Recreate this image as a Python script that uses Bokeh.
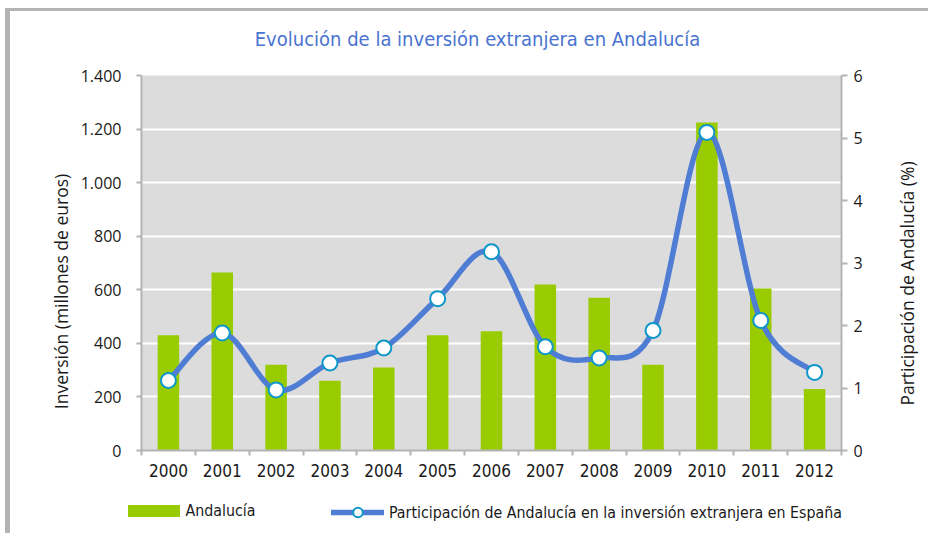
import math
from bokeh.plotting import figure
from bokeh.layouts import column, row
from bokeh.models import Range1d, LinearAxis, FixedTicker, Legend, LegendItem
from bokeh.core.properties import value
from bokeh.embed import file_html
from bokeh.resources import INLINE

# ---- data ----
years = ["2000", "2001", "2002", "2003", "2004", "2005", "2006",
         "2007", "2008", "2009", "2010", "2011", "2012"]
inversion = [430, 665, 320, 260, 310, 430, 445, 620, 570, 320, 1225, 605, 230]
participacion = [1.12, 1.88, 0.97, 1.40, 1.64, 2.43, 3.18, 1.66, 1.48, 1.92, 5.09, 2.08, 1.25]
left_ticks = [0, 200, 400, 600, 800, 1000, 1200, 1400]
left_tick_labels = ["0", "200", "400", "600", "800", "1.000", "1.200", "1.400"]
right_ticks = [0, 1, 2, 3, 4, 5, 6]

title_text = "Evolución de la inversión extranjera en Andalucía"
left_label = "Inversión (millones de euros)"
right_label = "Participación de Andalucía (%)"
bar_name = "Andalucía"
line_name = "Participación de Andalucía en la inversión extranjera en España"

NARROW = "DejaVu Sans Condensed"
SANS = "Open Sans"
GREY = "#b3b3b3"
GREEN = "#99cc00"
BLUE = "#507dd4"
MARK = "#0f97c9"
TXT = "#1a1a1a"

idx = list(range(len(years)))
n = len(idx)

# layout sizes (px)
W_ALL = 918
W_LEFT = 65
W_SIDE = 43
W_MAIN = W_ALL - W_LEFT - W_SIDE
H_TOP = 44
H_MAIN = 443
H_LEG = 35


def no_align(f):
    try:
        f.frame_align = False
    except Exception:
        pass


p = figure(width=W_MAIN, height=H_MAIN, output_backend="svg", toolbar_location=None,
           x_range=Range1d(-0.5, n - 0.5), y_range=Range1d(0, 1400),
           min_border_left=131 - W_LEFT, min_border_right=44, min_border_top=20,
           min_border_bottom=48)
no_align(p)
p.title = None
p.extra_y_ranges = {"right": Range1d(0, 6)}
p.background_fill_color = "#dcdcdc"
p.border_fill_color = "white"
p.outline_line_color = None

p.vbar(x=idx, top=inversion, width=0.4, fill_color=GREEN, line_color=None)

# smoothed line (Catmull-Rom -> cubic Bezier per segment)
bx0, by0, bx1, by1, bcx0, bcy0, bcx1, bcy1 = [], [], [], [], [], [], [], []
for i in range(n - 1):
    im1 = max(i - 1, 0)
    ip2 = min(i + 2, n - 1)
    bx0.append(idx[i]); by0.append(participacion[i])
    bx1.append(idx[i + 1]); by1.append(participacion[i + 1])
    bcx0.append(idx[i] + (idx[i + 1] - idx[im1]) / 6.0)
    bcy0.append(participacion[i] + (participacion[i + 1] - participacion[im1]) / 6.0)
    bcx1.append(idx[i + 1] - (idx[ip2] - idx[i]) / 6.0)
    bcy1.append(participacion[i + 1] - (participacion[ip2] - participacion[i]) / 6.0)

p.bezier(x0=bx0, y0=by0, x1=bx1, y1=by1, cx0=bcx0, cy0=bcy0, cx1=bcx1, cy1=bcy1,
         line_color=BLUE, line_width=5.5, line_cap="round", y_range_name="right")
p.scatter(x=idx, y=participacion, size=15, fill_color="white",
          line_color=MARK, line_width=2, y_range_name="right")

# x axis
xa = p.xaxis[0]
xa.ticker = FixedTicker(ticks=idx, minor_ticks=[i - 0.5 for i in range(n + 1)])
xa.major_label_overrides = {i: years[i] for i in idx}
xa.major_tick_out = 0
xa.major_tick_in = 0
xa.minor_tick_out = 5
xa.minor_tick_in = 0
xa.minor_tick_line_color = GREY
xa.minor_tick_line_width = 2
xa.axis_line_color = GREY
xa.axis_line_width = 2
xa.major_label_standoff = 8
xa.major_label_text_font = NARROW
xa.major_label_text_font_size = "17px"
xa.major_label_text_color = TXT

# left axis (ticks only; its title is drawn in the left strip)
ya = p.yaxis[0]
ya.ticker = FixedTicker(ticks=left_ticks)
ya.major_label_overrides = {t: l for t, l in zip(left_ticks, left_tick_labels)}
ya.major_tick_out = 5
ya.major_tick_in = 0
ya.minor_tick_out = 0
ya.minor_tick_in = 0
ya.major_tick_line_color = GREY
ya.major_tick_line_width = 2
ya.axis_line_color = GREY
ya.axis_line_width = 2
ya.major_label_standoff = 15
ya.major_label_text_font = SANS
ya.major_label_text_font_size = "16px"
ya.major_label_text_color = TXT

# right axis (ticks only; its title is drawn in the side strip)
ra = LinearAxis(y_range_name="right", ticker=FixedTicker(ticks=right_ticks))
ra.major_tick_out = 6
ra.major_tick_in = 0
ra.minor_tick_out = 0
ra.minor_tick_in = 0
ra.major_tick_line_color = GREY
ra.major_tick_line_width = 2
ra.axis_line_color = GREY
ra.axis_line_width = 2
ra.major_label_standoff = 6
ra.major_label_text_font = SANS
ra.major_label_text_font_size = "16px"
ra.major_label_text_color = TXT
p.add_layout(ra, "right")

# grid
p.xgrid.visible = False
p.ygrid.ticker = FixedTicker(ticks=left_ticks)
p.ygrid.grid_line_color = "white"
p.ygrid.grid_line_width = 2


def strip(w, h):
    f = figure(width=w, height=h, output_backend="svg", toolbar_location=None,
               x_range=Range1d(0, w), y_range=Range1d(0, h),
               x_axis_location=None, y_axis_location=None,
               min_border_left=0, min_border_right=0, min_border_top=0,
               min_border_bottom=0)
    no_align(f)
    f.title = None
    f.xgrid.visible = False
    f.ygrid.visible = False
    f.outline_line_color = None
    f.background_fill_color = "white"
    f.border_fill_color = "white"
    return f


# title strip
p0 = strip(W_ALL, H_TOP)
p0.text(x=[467], y=[H_TOP - 27], text=[title_text], text_align="center",
        text_baseline="middle", text_font=value(NARROW), text_font_size="20px",
        text_color="#4a73d0")

# left strip carrying the left axis title
p4 = strip(W_LEFT, H_MAIN)
p4.text(x=[50], y=[H_MAIN - 236], text=[left_label], angle=math.pi / 2,
        text_align="center", text_baseline="middle", text_font=value(SANS),
        text_font_size="17.5px", text_color=TXT)

# side strip carrying the right axis title (reads bottom to top)
p3 = strip(W_SIDE, H_MAIN)
p3.text(x=[W_SIDE / 2], y=[H_MAIN - 228], text=[right_label], angle=math.pi / 2,
        text_align="center", text_baseline="middle", text_font=value(SANS),
        text_font_size="17.5px", text_color=TXT)

# legend strip below the chart
p2 = strip(W_ALL, H_LEG)
r_bar = p2.vbar(x=[math.nan], top=[math.nan], width=1, fill_color=GREEN, line_color=None)
r_line = p2.line(x=[math.nan], y=[math.nan], line_color=BLUE, line_width=5.5,
                 line_cap="round")
r_pt = p2.scatter(x=[math.nan], y=[math.nan], size=10, fill_color="white",
                  line_color=MARK, line_width=2)
common = dict(orientation="horizontal", padding=0, margin=0, spacing=0,
              border_line_alpha=0, background_fill_alpha=0,
              label_text_font=NARROW, label_text_font_size="15.8px",
              label_text_color=TXT)
leg1 = Legend(items=[LegendItem(label=bar_name, renderers=[r_bar])],
              location=(110.5, 13.5), glyph_width=65, glyph_height=15,
              label_height=15, label_standoff=0, **common)
leg2 = Legend(items=[LegendItem(label=line_name, renderers=[r_line, r_pt])],
              location=(321, 9), glyph_width=53, glyph_height=24,
              label_height=24, label_standoff=5, **common)
p2.add_layout(leg1, "center")
p2.add_layout(leg2, "center")

lay = column(p0, row(p4, p, p3), p2,
             styles={"margin-left": "5px", "margin-top": "8px",
                     "border-left": "5px solid #b3b3b3",
                     "border-top": "3px solid #b3b3b3"})

open("out.html", "w").write(file_html(lay, INLINE))
